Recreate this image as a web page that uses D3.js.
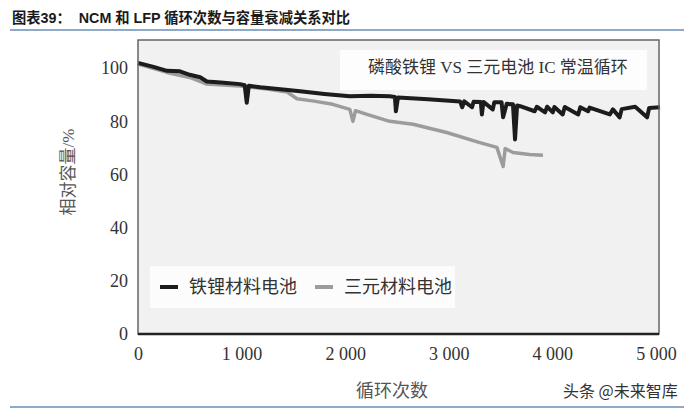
<!DOCTYPE html>
<html>
<head>
<meta charset="utf-8">
<script src="https://cdn.jsdelivr.net/npm/d3@7"></script>
<style>
    body { margin: 0; background: #fff; }
    svg { display: block; }
</style>
</head>
<body>
<svg id="chart"></svg>
<script>
// data: [cycles, relative capacity %]
const seriesNames = ["铁锂材料电池", "三元材料电池"]
const lfpPoints = [
    [0, 102], [150, 100.5], [280, 99], [405, 98.8], [500, 97.5], [600, 96.6], [665, 95],
    [800, 94.6], [985, 94], [1030, 93.6], [1050, 87], [1070, 93.4], [1180, 92.8],
    [1400, 92], [1565, 91.3], [1800, 90.3], [2045, 89.4], [2250, 89.6], [2430, 89.4],
    [2480, 89.2], [2490, 83.8], [2510, 89], [2800, 88.3], [3110, 87.5], [3130, 85.3],
    [3150, 87.5], [3225, 85.3], [3240, 87.4], [3310, 87.3], [3320, 82.6], [3335, 87.3],
    [3425, 84.5], [3440, 87.2], [3510, 87.2], [3525, 81.5], [3560, 86.6], [3620, 86.4],
    [3640, 73.2], [3660, 86], [3690, 85.7], [3830, 83.8], [3850, 85.5], [3930, 83.4],
    [3950, 85.5], [4005, 83.4], [4020, 85.4], [4100, 82.6], [4120, 85.4], [4250, 82.6],
    [4270, 85.3], [4345, 83.8], [4360, 85.2], [4555, 82.6], [4585, 84.5], [4650, 81.5],
    [4670, 84.6], [4800, 85.5], [4915, 81.5], [4935, 85], [5040, 85.3]
]
const ncmPoints = [
    [0, 101.5], [280, 98.4], [500, 96.5], [665, 94], [985, 93.3], [1245, 92.2], [1440, 91],
    [1535, 88.5], [1700, 87.6], [1880, 86.4], [2045, 84.5], [2075, 80], [2100, 84],
    [2210, 82.6], [2430, 80], [2655, 78.9], [2980, 75.8], [3300, 72], [3465, 70.2],
    [3525, 63], [3545, 69.8], [3620, 68.3], [3780, 67.5], [3910, 67.2]
]
const xTicks = [0, 1000, 2000, 3000, 4000, 5000]
const yTicks = [0, 20, 40, 60, 80, 100]

const W = 700, H = 410
const box = { left: 138, right: 659, top: 40, bottom: 334 }
const serif = "'Liberation Serif', 'Noto Sans CJK SC', serif"
const cjk = "'Noto Sans CJK SC', sans-serif"

const svg = d3.select("#chart")
    .attr("width", W)
    .attr("height", H)

const x = d3.scaleLinear()
    .domain([0, 5030])
    .range([box.left, box.right])
const y = d3.scaleLinear()
    .domain([0, 110.6])
    .range([box.bottom, box.top])

// title and rules
svg.append("text")
    .attr("x", 12)
    .attr("y", 23)
    .style("font-family", "'Liberation Sans', 'Noto Sans CJK SC', sans-serif")
    .style("font-weight", "bold")
    .style("font-size", "14.3px")
    .attr("fill", "#1a1a1a")
    .attr("xml:space", "preserve")
    .text("图表39：  NCM 和 LFP 循环次数与容量衰减关系对比")

svg.append("line")
    .attr("x1", 10).attr("x2", 684)
    .attr("y1", 30).attr("y2", 30)
    .attr("stroke", "#8fa9c9")
    .attr("stroke-width", 2)
svg.append("line")
    .attr("x1", 10).attr("x2", 684)
    .attr("y1", 407).attr("y2", 407)
    .attr("stroke", "#8fa9c9")
    .attr("stroke-width", 2)

// plot area
svg.append("rect")
    .attr("x", box.left)
    .attr("y", box.top)
    .attr("width", box.right - box.left)
    .attr("height", box.bottom - box.top)
    .attr("fill", "#f1f1f1")

// annotation box
svg.append("rect")
    .attr("x", 340).attr("y", 50)
    .attr("width", 307).attr("height", 40)
    .attr("fill", "#fdfdfd")
svg.append("text")
    .attr("x", 368)
    .attr("y", 73)
    .style("font-family", serif)
    .style("font-size", "17px")
    .attr("fill", "#333")
    .text("磷酸铁锂 VS 三元电池 IC 常温循环")

// legend
svg.append("rect")
    .attr("x", 150).attr("y", 266)
    .attr("width", 305).attr("height", 42)
    .attr("fill", "#fcfcfc")

const legendColors = ["#1c1c1c", "#9c9c9c"]
const legendX = [160, 315]
const legend = svg.selectAll(".legend")
    .data(seriesNames)
    .enter()
    .append("g")
    .attr("class", "legend")
    .attr("transform", (d, i) => "translate(" + legendX[i] + ",287)")
legend.append("line")
    .attr("x1", 0).attr("x2", 18)
    .attr("stroke", (d, i) => legendColors[i])
    .attr("stroke-width", 4)
legend.append("text")
    .attr("x", 29)
    .attr("dy", "0.36em")
    .style("font-family", cjk)
    .style("font-size", "18px")
    .attr("fill", "#333")
    .text(d => d)

// lines
const line = d3.line()
    .x(d => x(d[0]))
    .y(d => y(d[1]))

svg.append("path")
    .datum(ncmPoints)
    .attr("fill", "none")
    .attr("stroke", legendColors[1])
    .attr("stroke-width", 3.5)
    .attr("stroke-linejoin", "round")
    .attr("d", line)

svg.append("path")
    .datum(lfpPoints)
    .attr("fill", "none")
    .attr("stroke", legendColors[0])
    .attr("stroke-width", 4)
    .attr("stroke-linejoin", "round")
    .attr("d", line)

// frame
svg.append("rect")
    .attr("x", box.left)
    .attr("y", box.top)
    .attr("width", box.right - box.left)
    .attr("height", box.bottom - box.top)
    .attr("fill", "none")
    .attr("stroke", "#666")
    .attr("stroke-width", 1.5)
svg.append("line")
    .attr("x1", box.left).attr("x2", box.right)
    .attr("y1", box.bottom).attr("y2", box.bottom)
    .attr("stroke", "#222")
    .attr("stroke-width", 2.5)

// axes
const yAxis = d3.axisLeft(y)
    .tickValues(yTicks)
    .tickSize(0)
    .tickPadding(10)
const xAxis = d3.axisBottom(x)
    .tickValues(xTicks)
    .tickSize(0)
    .tickPadding(13)
    .tickFormat(d => d3.format(",")(d).replace(",", " "))

const gy = svg.append("g")
    .attr("transform", "translate(" + box.left + ",0)")
    .call(yAxis)
const gx = svg.append("g")
    .attr("transform", "translate(0," + box.bottom + ")")
    .call(xAxis)

for (const g of [gx, gy]) {
    g.select(".domain").remove()
    g.selectAll("text")
        .style("font-family", serif)
        .style("font-size", "18px")
        .attr("fill", "#333")
}

// axis titles
svg.append("text")
    .attr("transform", "translate(74,172) rotate(-90)")
    .attr("text-anchor", "middle")
    .style("font-family", serif)
    .style("font-size", "17px")
    .attr("fill", "#555")
    .text("相对容量/%")

svg.append("text")
    .attr("x", 392)
    .attr("y", 397)
    .attr("text-anchor", "middle")
    .style("font-family", cjk)
    .style("font-size", "18px")
    .attr("fill", "#555")
    .text("循环次数")

// watermark
svg.append("text")
    .attr("x", 563)
    .attr("y", 397)
    .style("font-family", cjk)
    .style("font-size", "16px")
    .attr("fill", "#333")
    .text("头条 @未来智库")
</script>
</body>
</html>
